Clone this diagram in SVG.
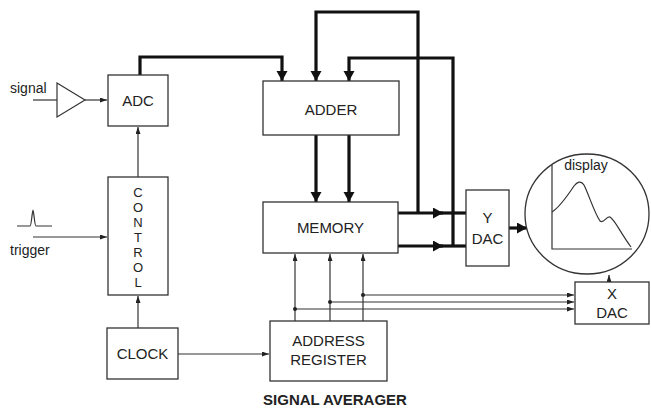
<svg xmlns="http://www.w3.org/2000/svg" width="651" height="408" viewBox="0 0 651 408">
<style>
.box{fill:#fff;stroke:#333;stroke-width:1.3}
.lbl{font-family:"Liberation Sans",Arial,sans-serif;font-size:15px;fill:#222;text-anchor:middle}
.ctl{font-family:"Liberation Sans",Arial,sans-serif;font-size:13px;fill:#222;text-anchor:middle}
.sm{font-family:"Liberation Sans",Arial,sans-serif;font-size:14px;fill:#222}
.thick{fill:none;stroke:#111;stroke-width:3.2}
.thin{fill:none;stroke:#333;stroke-width:1.2}
</style>
<defs>
<marker id="ah" markerUnits="userSpaceOnUse" markerWidth="12" markerHeight="12" refX="10" refY="5.5" orient="auto"><path d="M0,0 L10,5.5 L0,11 z" fill="#111"/></marker>
<marker id="as" markerUnits="userSpaceOnUse" markerWidth="8" markerHeight="6" refX="7" refY="2.5" orient="auto"><path d="M0,0 L7,2.5 L0,5 z" fill="#222"/></marker>
</defs>
<rect width="651" height="408" fill="#fff"/>

<g id="connectors">
<line class="thin" x1="33" y1="100" x2="57" y2="100"/>
<line class="thin" x1="85" y1="100" x2="107" y2="100" marker-end="url(#as)"/>
<path class="thin" d="M17,226 H30 C31.5,226 32.2,210 33,210 C33.8,210 34.5,226 36,226 H52"/>
<line class="thin" x1="33" y1="237" x2="107" y2="237" marker-end="url(#as)"/>
<line class="thin" x1="138" y1="177" x2="138" y2="127" marker-end="url(#as)"/>
<line class="thin" x1="138" y1="328" x2="138" y2="296" marker-end="url(#as)"/>
<line class="thin" x1="178" y1="354" x2="269" y2="354" marker-end="url(#as)"/>
<line class="thin" x1="295" y1="321" x2="295" y2="254" marker-end="url(#as)"/>
<line class="thin" x1="330" y1="321" x2="330" y2="254" marker-end="url(#as)"/>
<line class="thin" x1="363" y1="321" x2="363" y2="254" marker-end="url(#as)"/>
<line class="thin" x1="363" y1="295" x2="574" y2="295" marker-end="url(#as)"/>
<line class="thin" x1="330" y1="302" x2="574" y2="302" marker-end="url(#as)"/>
<line class="thin" x1="295" y1="309" x2="574" y2="309" marker-end="url(#as)"/>
<circle cx="363" cy="295" r="2" fill="#222"/>
<circle cx="330" cy="302" r="2" fill="#222"/>
<circle cx="295" cy="309" r="2" fill="#222"/>
<line class="thin" x1="609" y1="282" x2="609" y2="275" marker-end="url(#as)"/>
<path class="thick" d="M140,75 V57 H282 V81" marker-end="url(#ah)"/>
<path class="thick" d="M418,213 V12 H316 V81" marker-end="url(#ah)"/>
<path class="thick" d="M453,246 V58 H349 V81" marker-end="url(#ah)"/>
<line class="thick" x1="316" y1="135" x2="316" y2="202" marker-end="url(#ah)"/>
<line class="thick" x1="349" y1="135" x2="349" y2="202" marker-end="url(#ah)"/>
<line class="thick" x1="398" y1="213" x2="443" y2="213" marker-end="url(#ah)"/>
<line class="thick" x1="440" y1="213" x2="466" y2="213"/>
<line class="thick" x1="398" y1="246" x2="443" y2="246" marker-end="url(#ah)"/>
<line class="thick" x1="440" y1="246" x2="466" y2="246"/>
<line class="thick" x1="509" y1="228" x2="527" y2="228" marker-end="url(#ah)"/>
</g>

<g id="amp">
<path d="M57,83 L85,100 L57,117 z" fill="#fff" stroke="#333" stroke-width="1.2"/>
<text class="sm" x="10" y="93">signal</text>
</g>
<g id="trigger-label"><text class="sm" x="10" y="255">trigger</text></g>

<g id="adc"><rect class="box" x="108" y="75" width="60" height="51"/><text class="lbl" x="138" y="106">ADC</text></g>
<g id="control"><rect class="box" x="108" y="177" width="60" height="118"/>
<text class="ctl" x="138" y="197">C</text><text class="ctl" x="138" y="212">O</text><text class="ctl" x="138" y="227">N</text><text class="ctl" x="138" y="242">T</text><text class="ctl" x="138" y="257">R</text><text class="ctl" x="138" y="272">O</text><text class="ctl" x="138" y="287">L</text></g>
<g id="clock"><rect class="box" x="107" y="328" width="71" height="51"/><text class="lbl" x="142.5" y="359">CLOCK</text></g>
<g id="adder"><rect class="box" x="263" y="81" width="136" height="54"/><text class="lbl" x="331" y="115">ADDER</text></g>
<g id="memory"><rect class="box" x="263" y="202" width="135" height="51"/><text class="lbl" x="330.5" y="233">MEMORY</text></g>
<g id="address"><rect class="box" x="270" y="321" width="117" height="60"/><text class="lbl" x="328.5" y="346">ADDRESS</text><text class="lbl" x="328.5" y="365">REGISTER</text></g>
<g id="ydac"><rect class="box" x="466" y="190" width="43" height="76"/><text class="lbl" x="487.5" y="223">Y</text><text class="lbl" x="487.5" y="244">DAC</text></g>
<g id="xdac"><rect class="box" x="575" y="282" width="74" height="42"/><text class="lbl" x="612" y="299">X</text><text class="lbl" x="612" y="318">DAC</text></g>
<g id="display">
<ellipse cx="587" cy="214" rx="62" ry="60" fill="#fff" stroke="#333" stroke-width="1.3"/>
<text class="sm" x="586" y="170" text-anchor="middle">display</text>
<path class="thin" d="M552,165 V249 H632"/>
<path class="thin" d="M552,212 C560,207 568,195 574,186 C577,182 581,180 584,185 C589,195 594,212 600,221 C604,224 606,216 610,217 C615,220 620,232 631,247"/>
</g>
<g id="title"><text x="335" y="405" text-anchor="middle" style="font-family:'Liberation Sans',Arial,sans-serif;font-size:15px;font-weight:bold;fill:#222">SIGNAL AVERAGER</text></g>
</svg>
